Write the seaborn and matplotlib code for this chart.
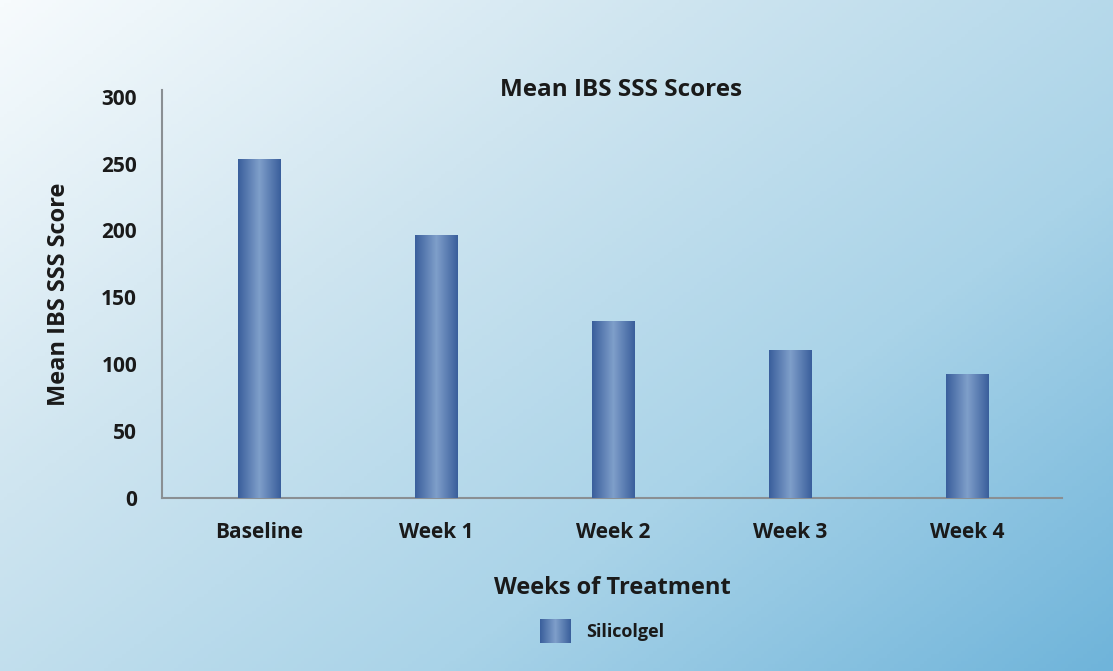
import numpy as np
import pandas as pd
import matplotlib
matplotlib.use("Agg")
import matplotlib.pyplot as plt
from matplotlib.colors import LinearSegmentedColormap
import seaborn as sns

# data
weeks = ["Baseline", "Week 1", "Week 2", "Week 3", "Week 4"]
scores = [253, 196, 132, 110, 92]
series_name = "Silicolgel"

df = pd.DataFrame({"week": weeks, "score": scores})

sns.set_theme(style="white")
plt.rcParams["font.family"] = ["Open Sans", "DejaVu Sans"]
plt.rcParams["font.weight"] = "bold"

fig = plt.figure(figsize=(11.13, 6.71), dpi=100)

# diagonal background gradient, white top-left to blue bottom-right
bg = fig.add_axes([0, 0, 1, 1], zorder=-10)
xx, yy = np.meshgrid(np.linspace(0, 1, 300), np.linspace(0, 1, 200))
t = np.clip(0.55 * xx + 0.45 * yy, 0, 1)
bg_cmap = LinearSegmentedColormap.from_list("bg", ["#f7fbfd", "#cfe5f0", "#a9d3e8", "#6fb4da"])
bg.imshow(t, cmap=bg_cmap, aspect="auto", extent=[0, 1, 0, 1], origin="upper")
bg.set_axis_off()

ax = fig.add_axes([0.1456, 0.2578, 0.809, 0.608])
ax.patch.set_alpha(0)
sns.barplot(data=df, x="week", y="score", ax=ax, width=0.24, color="#4a6fa8", linewidth=0)

bar_cmap = LinearSegmentedColormap.from_list("bar", ["#3a5f9c", "#7f9fca", "#3a5f9c"])
grad = np.linspace(0, 1, 100).reshape(1, -1)
for p in ax.patches:
    x0, w, h = p.get_x(), p.get_width(), p.get_height()
    ax.imshow(grad, cmap=bar_cmap, aspect="auto", extent=[x0, x0 + w, 0, h], zorder=3)
    p.set_facecolor("none")
    p.set_edgecolor("none")

ax.set_xlim(-0.548, 4.537)
ax.set_ylim(0, 305)
ax.set_yticks(range(0, 301, 50))

for s in ["top", "right"]:
    ax.spines[s].set_visible(False)
for s in ["left", "bottom"]:
    ax.spines[s].set_color("#8a8f93")
    ax.spines[s].set_linewidth(1.5)

ax.tick_params(axis="both", length=0, labelsize=15, colors="#1a1a1a")
ax.tick_params(axis="y", pad=18)
ax.tick_params(axis="x", pad=17)
for lab in ax.get_xticklabels() + ax.get_yticklabels():
    lab.set_fontweight("bold")

ax.set_xlabel("Weeks of Treatment", fontsize=17, fontweight="bold", labelpad=24, color="#1a1a1a")
ax.set_ylabel("Mean IBS SSS Score", fontsize=17, fontweight="bold", labelpad=22, color="#1a1a1a")
ax.text(0.51, 1.0, "Mean IBS SSS Scores", transform=ax.transAxes, ha="center", va="center",
        fontsize=17.5, fontweight="bold", color="#1a1a1a")

# legend with gradient swatch
lax = fig.add_axes([0.485, 0.042, 0.027, 0.035])
lax.imshow(grad, cmap=bar_cmap, aspect="auto")
lax.set_axis_off()
fig.text(0.527, 0.058, series_name, fontsize=13, fontweight="bold", va="center", color="#1a1a1a")

fig.savefig("out.png", dpi=100)
